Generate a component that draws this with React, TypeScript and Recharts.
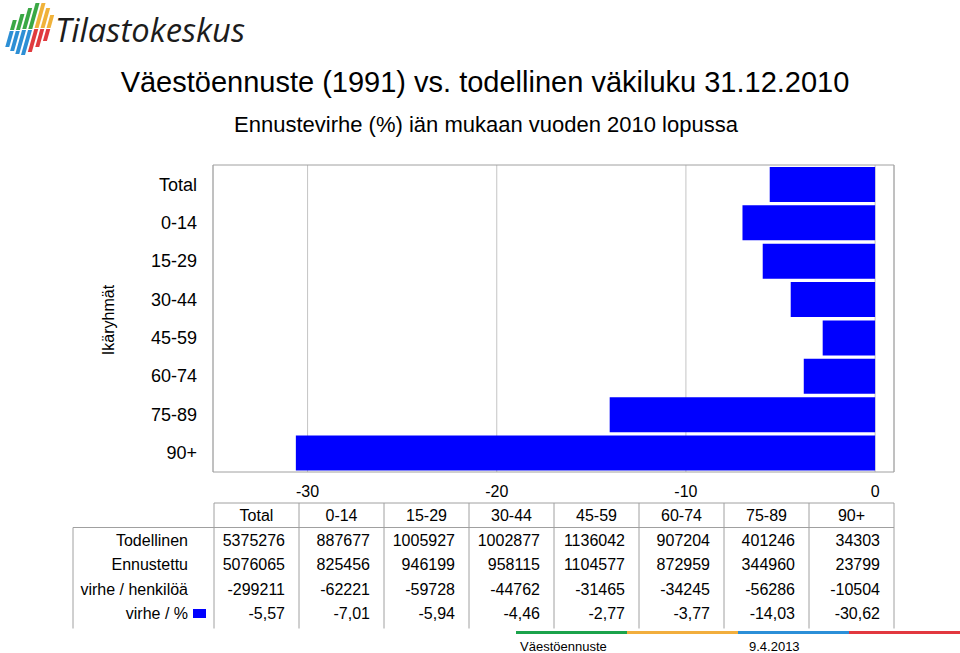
import React from "react";
import { BarChart, Bar, XAxis, YAxis, CartesianGrid, ReferenceArea } from "recharts";

const categories = ["Total", "0-14", "15-29", "30-44", "45-59", "60-74", "75-89", "90+"];
const errorPct = [-5.57, -7.01, -5.94, -4.46, -2.77, -3.77, -14.03, -30.62];
const actual = [5375276, 887677, 1005927, 1002877, 1136042, 907204, 401246, 34303];
const forecast = [5076065, 825456, 946199, 958115, 1104577, 872959, 344960, 23799];
const errorPersons = [-299211, -62221, -59728, -44762, -31465, -34245, -56286, -10504];
const xTicks = [-30, -20, -10, 0];

const FONT = "'Liberation Sans', Arial, sans-serif";
const BLUE = "#0000ff";

const data = categories.map((name, i) => ({ name, virhe: errorPct[i] }));

const fmtPct = (v: number) => v.toFixed(2).replace(".", ",");

// table geometry follows the plot area
const TABLE_LEFT = 214;
const TABLE_RIGHT = 894;
const COL_W = (TABLE_RIGHT - TABLE_LEFT) / categories.length;
const HEAD_TOP = 503;
const ROW_H = 24.5;

const tableRows = [
  { label: "Todellinen", values: actual.map(String) },
  { label: "Ennustettu", values: forecast.map(String) },
  { label: "virhe / henkilöä", values: errorPersons.map(String) },
  { label: "virhe / %", values: errorPct.map(fmtPct), key: true },
];

function Logo() {
  const tops = [20, 14, 8, 3, 3, 8, 15];
  const mids = [30, 30, 29, 29, 28, 28, 28];
  const bottoms = [47, 51, 54, 55, 52, 47, 41];
  const slant = 0.28;
  const stripe = (i: number, y1: number, y2: number, color: string) => {
    const bx = 3 + i * 6;
    const xa = bx + (55 - y1) * slant;
    const xb = bx + (55 - y2) * slant;
    return (
      <polygon
        key={`${i}-${y1}`}
        points={`${xa},${y1} ${xa + 4},${y1} ${xb + 4},${y2} ${xb},${y2}`}
        fill={color}
      />
    );
  };
  return (
    <g>
      {tops.map((t, i) => stripe(i, t, mids[i], i < 4 ? "#3aa845" : "#f0b23a"))}
      {bottoms.map((b, i) => stripe(i, mids[i] + 1, b, i < 4 ? "#2d8fd5" : "#e03a3e"))}
      <text
        x={55}
        y={42}
        fontFamily="'Open Sans', sans-serif"
        fontStyle="italic"
        fontSize={33}
        fill="#1c1c1c"
        textLength={190}
        lengthAdjust="spacingAndGlyphs"
      >
        Tilastokeskus
      </text>
    </g>
  );
}

function DataTable() {
  const bottom = HEAD_TOP + ROW_H * (tableRows.length + 1) + 3;
  return (
    <g fontFamily={FONT} fontSize={16} fill="#000">
      <line x1={TABLE_LEFT} y1={HEAD_TOP} x2={TABLE_RIGHT} y2={HEAD_TOP} stroke="#a0a0a0" />
      <line x1={73} y1={HEAD_TOP + ROW_H} x2={TABLE_RIGHT} y2={HEAD_TOP + ROW_H} stroke="#a0a0a0" />
      <line x1={73} y1={HEAD_TOP + ROW_H} x2={73} y2={bottom} stroke="#a0a0a0" />
      {categories.map((_, i) => (
        <line
          key={i}
          x1={TABLE_LEFT + i * COL_W}
          y1={HEAD_TOP}
          x2={TABLE_LEFT + i * COL_W}
          y2={bottom}
          stroke="#a0a0a0"
        />
      ))}
      <line x1={TABLE_RIGHT} y1={HEAD_TOP} x2={TABLE_RIGHT} y2={bottom} stroke="#a0a0a0" />
      {categories.map((c, i) => (
        <text key={c} x={TABLE_LEFT + (i + 0.5) * COL_W} y={HEAD_TOP + 18} textAnchor="middle">
          {c}
        </text>
      ))}
      {tableRows.map((row, r) => {
        const y = HEAD_TOP + ROW_H * (r + 1) + 18;
        return (
          <g key={row.label}>
            <text x={188} y={y} textAnchor="end">
              {row.label}
            </text>
            {row.key && <rect x={193} y={y - 10} width={13} height={9} fill={BLUE} />}
            {row.values.map((v, i) => (
              <text key={i} x={TABLE_LEFT + (i + 1) * COL_W - 14} y={y} textAnchor="end">
                {v}
              </text>
            ))}
          </g>
        );
      })}
    </g>
  );
}

function Footer() {
  const colors = ["#1ba34b", "#f2ae3d", "#2b8fd8", "#e2383f"];
  const x0 = 516;
  const w = (960 - x0) / colors.length;
  return (
    <g>
      {colors.map((c, i) => (
        <rect key={c} x={x0 + i * w} y={631} width={w} height={3} fill={c} />
      ))}
      <text x={520} y={651} fontFamily={FONT} fontSize={13} fill="#000">
        Väestöennuste
      </text>
      <text x={749} y={651} fontFamily={FONT} fontSize={13} fill="#000">
        9.4.2013
      </text>
    </g>
  );
}

export default function App() {
  return (
    <div style={{ position: "absolute", left: 0, top: 0, width: 960, height: 653, background: "#fff" }}>
      <BarChart
        width={960}
        height={653}
        data={data}
        layout="vertical"
        margin={{ top: 165, right: 66, bottom: 151, left: 113 }}
        barCategoryGap="5%"
      >
        <CartesianGrid horizontal={false} stroke="#c4c4c4" />
        <ReferenceArea x1={-35} x2={1} fill="none" stroke="#a0a0a0" ifOverflow="visible" />
        <XAxis
          type="number"
          domain={[-35, 1]}
          ticks={xTicks}
          axisLine={false}
          tickLine={false}
          tickSize={0}
          tickMargin={14}
          height={30}
          tick={{ fontSize: 16, fill: "#000", fontFamily: FONT }}
        />
        <YAxis
          type="category"
          dataKey="name"
          width={100}
          axisLine={false}
          tickLine={false}
          tickSize={0}
          tickMargin={16}
          tick={{ fontSize: 18, fill: "#000", fontFamily: FONT }}
        />
        <Bar dataKey="virhe" fill={BLUE} isAnimationActive={false} />
      </BarChart>
      <svg
        width={960}
        height={653}
        style={{ position: "absolute", left: 0, top: 0, pointerEvents: "none" }}
      >
        <Logo />
        <text x={485} y={92} textAnchor="middle" fontFamily={FONT} fontSize={29} fill="#000">
          Väestöennuste (1991) vs. todellinen väkiluku 31.12.2010
        </text>
        <text x={486} y={132} textAnchor="middle" fontFamily={FONT} fontSize={22} fill="#000">
          Ennustevirhe (%) iän mukaan vuoden 2010 lopussa
        </text>
        <text
          x={0}
          y={0}
          transform="translate(114, 320) rotate(-90)"
          textAnchor="middle"
          fontFamily={FONT}
          fontSize={16}
          fill="#000"
        >
          Ikäryhmät
        </text>
        <DataTable />
        <Footer />
      </svg>
    </div>
  );
}
